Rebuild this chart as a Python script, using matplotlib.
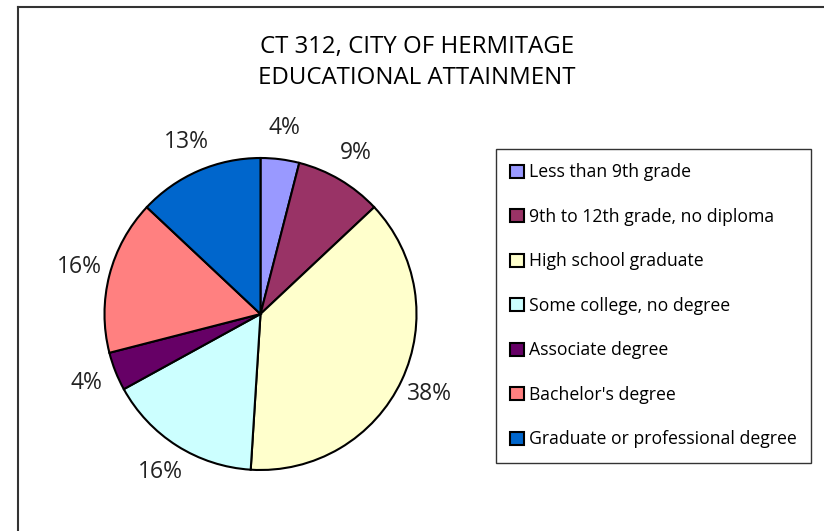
import matplotlib
matplotlib.use("Agg")
import matplotlib.pyplot as plt
from matplotlib.lines import Line2D

categories = ["Less than 9th grade", "9th to 12th grade, no diploma",
              "High school graduate", "Some college, no degree",
              "Associate degree", "Bachelor's degree",
              "Graduate or professional degree"]
shares = [4, 9, 38, 16, 4, 16, 13]
colors = ["#9999FF", "#993366", "#FFFFCC", "#CCFFFF", "#660066", "#FF8080", "#0066CC"]

plt.rcParams['font.family'] = ['Open Sans', 'DejaVu Sans']

W, H = 824, 531
fig = plt.figure(figsize=(W / 100, H / 100), dpi=100)

# outer frame (top and left edges visible)
fig.add_artist(Line2D([18 / W, 1], [1 - 7 / H, 1 - 7 / H], color="#333333", lw=1.5))
fig.add_artist(Line2D([18 / W, 18 / W], [0, 1 - 7 / H], color="#333333", lw=1.5))

fig.text(417 / W, 1 - 47 / H, "CT 312, CITY OF HERMITAGE", ha="center", va="center", fontsize=17.3)
fig.text(417 / W, 1 - 78 / H, "EDUCATIONAL ATTAINMENT", ha="center", va="center", fontsize=17.3)

cx, cy, r = 260.5, 314, 156
ax = fig.add_axes([(cx - r) / W, 1 - (cy + r) / H, 2 * r / W, 2 * r / H])
wedges, texts, pcts = ax.pie(shares, colors=colors, startangle=90, counterclock=False,
                             autopct="%d%%", pctdistance=1.2,
                             wedgeprops=dict(edgecolor="black", linewidth=1.5),
                             textprops=dict(fontsize=16.5, color="#222222"))
ax.set_xlim(-1, 1)
ax.set_ylim(-1, 1)

leg = fig.legend(wedges, categories, loc="upper left",
                 bbox_to_anchor=(496 / W, 1 - 149 / H), fontsize=12.7,
                 frameon=True, fancybox=False, edgecolor="black",
                 handlelength=0.75, handleheight=0.75, handletextpad=0.3,
                 labelspacing=1.5, borderpad=0.82, borderaxespad=0)
leg.get_frame().set_linewidth(1.0)
for h in leg.legend_handles:
    h.set_linewidth(1.5)

fig.savefig("out.png", dpi=100)
